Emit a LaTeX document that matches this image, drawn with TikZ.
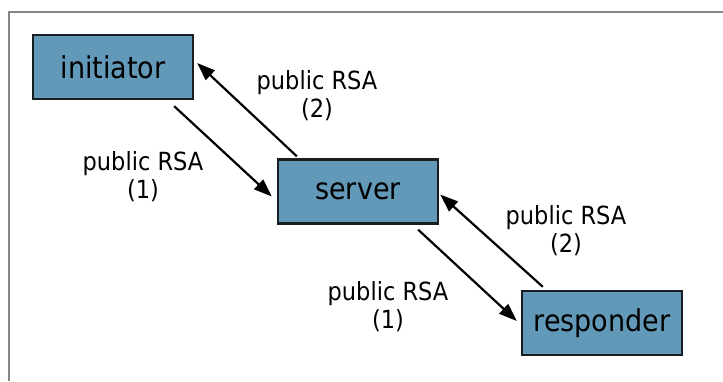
\documentclass[tikz,border=0pt]{standalone}
\usepackage{fontspec}
\setmainfont{DejaVu Sans Condensed}
\usetikzlibrary{arrows.meta,calc}

\definecolor{boxblue}{RGB}{98,153,185}
\definecolor{boxedge}{RGB}{25,30,35}
\definecolor{framegray}{RGB}{135,135,135}

\tikzset{
  party/.style={draw=boxedge, fill=boxblue, line width=2.4pt,
    minimum width=160pt, minimum height=64pt, inner sep=0pt,
    font=\fontsize{30}{36}\selectfont},
  msg/.style={draw=black, line width=2.2pt,
    -{Triangle[length=18pt,width=13pt]}},
  msglabel/.style={align=center, inner sep=0pt,
    font=\fontsize{25}{28}\selectfont}
}

\begin{document}
\begin{tikzpicture}[x=1pt, y=-1pt]
  \useasboundingbox (0,0) rectangle (723,381);

  % outer frame (only its top and left edges fall inside the page)
  \draw[framegray, line width=1.5pt] (9,381) -- (9,12) -- (723,12);

  % the three parties
  \node[party] (initiator) at (113,67)    {initiator};
  \node[party] (server)    at (358,191.5) {server};
  \node[party] (responder) at (602,323)   {responder};

  % key exchange messages
  \draw[msg] ($(initiator.south east)+(-20,6)$) -- ($(server.west)+(-5,5)$);
  \draw[msg] ($(server.north west)+(20,-2)$) -- ($(initiator.east)+(3,-4)$);
  \draw[msg] ($(server.south east)+(-21,5)$) -- ($(responder.west)+(-4,-2)$);
  \draw[msg] ($(responder.north west)+(22,-3)$) -- ($(server.east)+(1,3)$);

  % message labels
  \node[msglabel] (l1) at (143,177)   {public RSA\\(1)};
  \node[msglabel] (l2) at (317,96)    {public RSA\\(2)};
  \node[msglabel] (l3) at (388,307)   {public RSA\\(1)};
  \node[msglabel] (l4) at (566,230.5) {public RSA\\(2)};
\end{tikzpicture}
\end{document}
